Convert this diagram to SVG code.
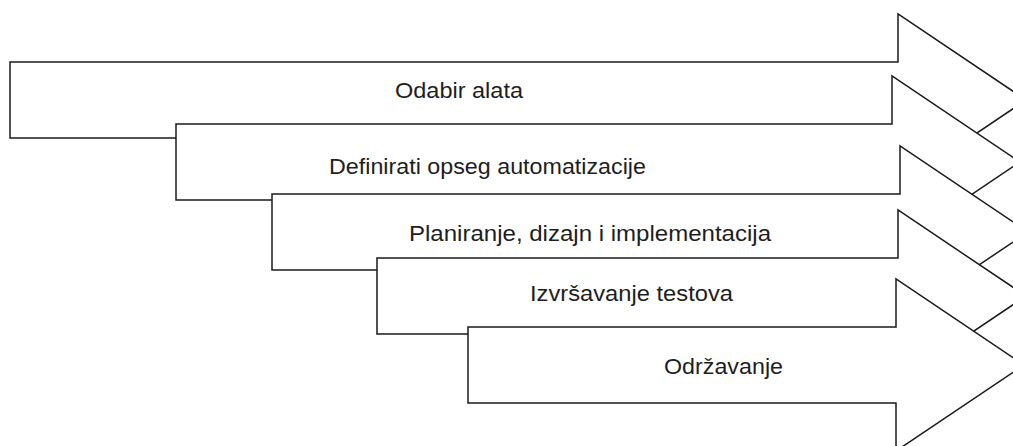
<svg xmlns="http://www.w3.org/2000/svg" width="1013" height="446" viewBox="0 0 1013 446">
<style>
.arrow{fill:#ffffff;stroke:#1a1a1a;stroke-width:1.5;stroke-linejoin:miter}
.lbl{font-family:"Liberation Sans",Arial,sans-serif;font-size:22px;fill:#1e1e1e}
</style>
<rect width="1013" height="446" fill="#ffffff"/>
<g id="step1">
<path class="arrow" d="M10,62 H898 V14 L1026,100 L898,186 V138 H10 Z"/>
<text class="lbl" x="395" y="97.5" textLength="128" lengthAdjust="spacingAndGlyphs">Odabir alata</text>
</g>
<g id="step2">
<path class="arrow" d="M176,124 H892 V76 L1020,162 L892,248 V200 H176 Z"/>
<text class="lbl" x="329" y="174" textLength="317" lengthAdjust="spacingAndGlyphs">Definirati opseg automatizacije</text>
</g>
<g id="step3">
<path class="arrow" d="M272,194 H900 V146 L1028,232 L900,318 V270 H272 Z"/>
<text class="lbl" x="409" y="241" textLength="362" lengthAdjust="spacingAndGlyphs">Planiranje, dizajn i implementacija</text>
</g>
<g id="step4">
<path class="arrow" d="M377,258 H898 V210 L1026,296 L898,382 V334 H377 Z"/>
<text class="lbl" x="530" y="301" textLength="203" lengthAdjust="spacingAndGlyphs">Izvršavanje testova</text>
</g>
<g id="step5">
<path class="arrow" d="M468,327 H896 V279 L1024,365 L896,451 V403 H468 Z"/>
<text class="lbl" x="664" y="373.5" textLength="119" lengthAdjust="spacingAndGlyphs">Održavanje</text>
</g>
<g id="connectors"></g>
</svg>
